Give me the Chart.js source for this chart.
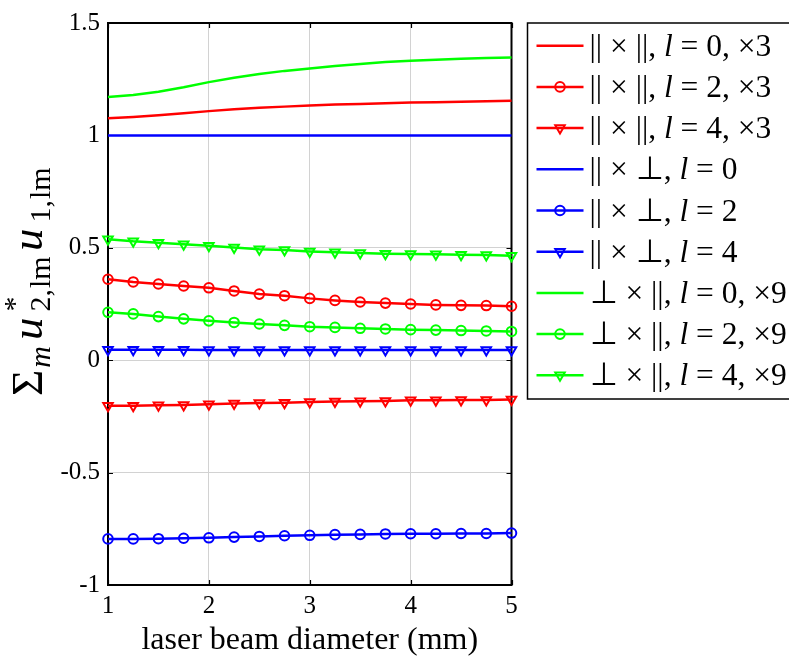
<!DOCTYPE html>
<html><head><meta charset="utf-8">
<script src="https://cdn.jsdelivr.net/npm/chart.js@4"></script>
<style>html,body{margin:0;padding:0;background:#fff;overflow:hidden}#wrap{width:789px;height:658px}</style>
</head><body><div id="wrap"><canvas id="c" width="789" height="658"></canvas></div>
<script>
// ---------- data ----------
const diameters = [1,1.25,1.5,1.75,2,2.25,2.5,2.75,3,3.25,3.5,3.75,4,4.25,4.5,4.75,5];
const parPar_l0 = [1.076,1.082,1.090,1.099,1.108,1.116,1.123,1.128,1.133,1.137,1.140,1.143,1.146,1.148,1.150,1.152,1.154];
const parPar_l2 = [0.360,0.348,0.339,0.330,0.322,0.308,0.294,0.287,0.275,0.266,0.259,0.254,0.250,0.246,0.244,0.243,0.240];
const parPar_l4 = [-0.203,-0.203,-0.200,-0.199,-0.196,-0.193,-0.190,-0.189,-0.186,-0.184,-0.183,-0.181,-0.178,-0.178,-0.177,-0.177,-0.175];
const parPerp_l0 = [1,1,1,1,1,1,1,1,1,1,1,1,1,1,1,1,1];
const parPerp_l2 = [-0.795,-0.795,-0.794,-0.792,-0.790,-0.787,-0.784,-0.781,-0.779,-0.776,-0.775,-0.773,-0.772,-0.772,-0.771,-0.771,-0.769];
const parPerp_l4 = [0.046,0.046,0.046,0.046,0.045,0.045,0.045,0.045,0.045,0.045,0.045,0.045,0.045,0.045,0.045,0.045,0.045];
const perpPar_l0 = [1.171,1.180,1.194,1.214,1.237,1.256,1.273,1.287,1.298,1.309,1.318,1.326,1.332,1.337,1.341,1.344,1.346];
const perpPar_l2 = [0.213,0.206,0.194,0.184,0.175,0.168,0.161,0.155,0.149,0.146,0.142,0.139,0.136,0.134,0.132,0.130,0.128];
const perpPar_l4 = [0.538,0.529,0.523,0.516,0.509,0.501,0.494,0.490,0.484,0.480,0.477,0.474,0.472,0.471,0.469,0.468,0.465];

const seriesLabels = [
  '|| \u00d7 ||, {l} = 0, \u00d73',
  '|| \u00d7 ||, {l} = 2, \u00d73',
  '|| \u00d7 ||, {l} = 4, \u00d73',
  '|| \u00d7 \u22a5, {l} = 0',
  '|| \u00d7 \u22a5, {l} = 2',
  '|| \u00d7 \u22a5, {l} = 4',
  '\u22a5 \u00d7 ||, {l} = 0, \u00d79',
  '\u22a5 \u00d7 ||, {l} = 2, \u00d79',
  '\u22a5 \u00d7 ||, {l} = 4, \u00d79'
];
const xTickValues = [1,2,3,4,5];
const xTickLabels = ['1','2','3','4','5'];
const yTickValues = [-1,-0.5,0,0.5,1,1.5];
const yTickLabels = ['-1','-0.5','0','0.5','1','1.5'];
const xAxisTitle = 'laser beam diameter (mm)';
const yAxisTitleParts = ['\u03a3','m','u','*','2,','lm','u','1,','lm'];

// ---------- styling ----------
const RED = '#ff0000', BLUE = '#0000ff', GREEN = '#00ff00';
const SERIF = '"Liberation Serif", "Times New Roman", serif';
const seriesValues = [parPar_l0, parPar_l2, parPar_l4, parPerp_l0, parPerp_l2, parPerp_l4, perpPar_l0, perpPar_l2, perpPar_l4];
const seriesColors = [RED,RED,RED,BLUE,BLUE,BLUE,GREEN,GREEN,GREEN];
const seriesMarkers = [null,'circle','triangle',null,'circle','triangle',null,'circle','triangle'];

const datasets = seriesValues.map((vals, i) => {
  const m = seriesMarkers[i];
  return {
    label: seriesLabels[i],
    data: diameters.map((d, k) => ({x: d, y: vals[k]})),
    borderColor: seriesColors[i],
    backgroundColor: 'rgba(0,0,0,0)',
    pointBorderColor: seriesColors[i],
    pointBackgroundColor: 'rgba(0,0,0,0)',
    borderWidth: 2.5,
    pointRadius: m ? (m === 'circle' ? 4.8 : 5.5) : 0,
    pointBorderWidth: 2,
    pointStyle: m || 'circle',
    pointRotation: m === 'triangle' ? 180 : 0,
    tension: 0,
    clip: false
  };
});

// ---------- plugins ----------
const framePlugin = {
  id: 'frame',
  beforeDatasetsDraw(chart) {
    const {ctx, chartArea: a, scales} = chart;
    ctx.save();
    ctx.strokeStyle = '#000';
    ctx.lineWidth = 1.2;
    const tl = 5;
    xTickValues.forEach(v => {
      const px = Math.round(scales.x.getPixelForValue(v)) + 0.5;
      ctx.beginPath();
      ctx.moveTo(px, a.bottom); ctx.lineTo(px, a.bottom - tl);
      ctx.moveTo(px, a.top); ctx.lineTo(px, a.top + tl);
      ctx.stroke();
    });
    yTickValues.forEach(v => {
      const py = Math.round(scales.y.getPixelForValue(v)) + 0.5;
      ctx.beginPath();
      ctx.moveTo(a.left, py); ctx.lineTo(a.left + tl, py);
      ctx.moveTo(a.right, py); ctx.lineTo(a.right - tl, py);
      ctx.stroke();
    });
    ctx.lineWidth = 2;
    ctx.strokeRect(a.left, a.top, a.right - a.left, a.bottom - a.top);
    ctx.restore();
  }
};

function drawSegments(ctx, text, x, y, size) {
  const parts = text.split(/(\{l\})/);
  parts.forEach(p => {
    if (!p) return;
    if (p === '{l}') {
      ctx.font = 'italic ' + size + 'px ' + SERIF;
      ctx.fillText('l', x, y);
      x += ctx.measureText('l').width;
    } else {
      ctx.font = size + 'px ' + SERIF;
      ctx.fillText(p, x, y);
      x += ctx.measureText(p).width;
    }
  });
}

const legendPlugin = {
  id: 'boxLegend',
  afterDraw(chart) {
    const ctx = chart.ctx;
    const a = chart.chartArea;
    const left = a.right + 16, top = a.top;
    const rowH = 41.2, firstY = top + 22.7;
    ctx.save();
    ctx.strokeStyle = '#000';
    ctx.lineWidth = 1.5;
    ctx.strokeRect(left, top, 300, 376);
    chart.data.datasets.forEach((ds, i) => {
      const cy = firstY + i * rowH;
      const x0 = left + 9, x1 = left + 56, xm = (x0 + x1) / 2;
      ctx.strokeStyle = ds.borderColor;
      ctx.lineWidth = 2.5;
      ctx.beginPath(); ctx.moveTo(x0, cy); ctx.lineTo(x1, cy); ctx.stroke();
      if (ds.pointRadius > 0) {
        ctx.strokeStyle = ds.pointBorderColor;
        ctx.fillStyle = 'rgba(0,0,0,0)';
        ctx.lineWidth = 2;
        Chart.helpers.drawPoint(ctx, {pointStyle: ds.pointStyle, rotation: ds.pointRotation, radius: ds.pointRadius, borderWidth: 2}, xm, cy);
      }
      ctx.fillStyle = '#000';
      ctx.textBaseline = 'alphabetic';
      ctx.textAlign = 'left';
      drawSegments(ctx, ds.label, left + 62, cy + 10, 31.5);
    });
    ctx.restore();
  }
};

const yTitlePlugin = {
  id: 'yTitle',
  afterDraw(chart) {
    const ctx = chart.ctx;
    const B = 45, S = 30;
    const P = yAxisTitleParts;
    const big = (it) => (it ? 'italic ' : '') + B + 'px ' + SERIF;
    const small = (it) => (it ? 'italic ' : '') + S + 'px ' + SERIF;
    const w = (f, t) => { ctx.font = f; return ctx.measureText(t).width; };
    const wSig = w(big(false), P[0]);
    const wM = w(small(true), P[1]);
    const wU = w(big(true), P[2]) + 3;
    const wSub1 = Math.max(w(small(false), P[3]), w(small(false), P[4]) + w(small(true), P[5]));
    const wSub2 = w(small(false), P[7]) + w(small(true), P[8]);
    const g1 = 6, g2 = 3, g3 = 8;
    const total = wSig + 2 + wM + g1 + wU + g2 + wSub1 + g3 + wU + g2 + wSub2;
    const cx = 31, cy = 283;
    ctx.save();
    ctx.translate(cx, cy);
    ctx.rotate(-Math.PI / 2);
    ctx.fillStyle = '#000';
    ctx.textBaseline = 'alphabetic';
    ctx.textAlign = 'left';
    let x = -total / 2;
    const base = 11, sub = base + 8, sup = base - 18;
    ctx.font = big(false); ctx.fillText(P[0], x, base); x += wSig + 2;
    ctx.font = small(true); ctx.fillText(P[1], x, sub); x += wM + g1;
    ctx.font = big(true); ctx.fillText(P[2], x, base); x += wU + g2;
    ctx.font = small(false); ctx.fillText(P[3], x, sup);
    ctx.fillText(P[4], x, sub);
    ctx.font = small(true); ctx.fillText(P[5], x + w(small(false), P[4]) + 1, sub);
    x += wSub1 + g3;
    ctx.font = big(true); ctx.fillText(P[6], x, base); x += wU + g2;
    ctx.font = small(false); ctx.fillText(P[7], x, sub);
    ctx.font = small(true); ctx.fillText(P[8], x + w(small(false), P[7]) + 1, sub);
    ctx.restore();
  }
};

new Chart(document.getElementById('c'), {
  type: 'line',
  data: { datasets },
  options: {
    responsive: false,
    animation: false,
    devicePixelRatio: 1,
    layout: { padding: { left: 0, right: 277.5, top: 13, bottom: 0 } },
    plugins: { legend: { display: false }, tooltip: { enabled: false } },
    scales: {
      x: {
        type: 'linear', min: 1, max: 5,
        afterBuildTicks: s => { s.ticks = xTickValues.map(v => ({value: v})); },
        afterFit: s => { s.height = 73; },
        ticks: {
          callback: (v) => xTickLabels[xTickValues.indexOf(v)],
          font: { family: SERIF, size: 25 }, color: '#000', padding: 6, maxRotation: 0
        },
        grid: { color: '#d2d2d2', lineWidth: 1, drawTicks: false },
        border: { display: false },
        title: { display: true, text: xAxisTitle, font: { family: SERIF, size: 32, lineHeight: 1 }, color: '#000', padding: { top: 0, bottom: 1 } }
      },
      y: {
        type: 'linear', min: -1, max: 1.5,
        afterBuildTicks: s => { s.ticks = yTickValues.map(v => ({value: v})); },
        afterFit: s => { s.width = 108; },
        ticks: {
          callback: (v) => yTickLabels[yTickValues.indexOf(v)],
          font: { family: SERIF, size: 25 }, color: '#000', padding: 8
        },
        grid: { color: '#d2d2d2', lineWidth: 1, drawTicks: false },
        border: { display: false }
      }
    }
  },
  plugins: [framePlugin, legendPlugin, yTitlePlugin]
});
</script>
</body></html>
